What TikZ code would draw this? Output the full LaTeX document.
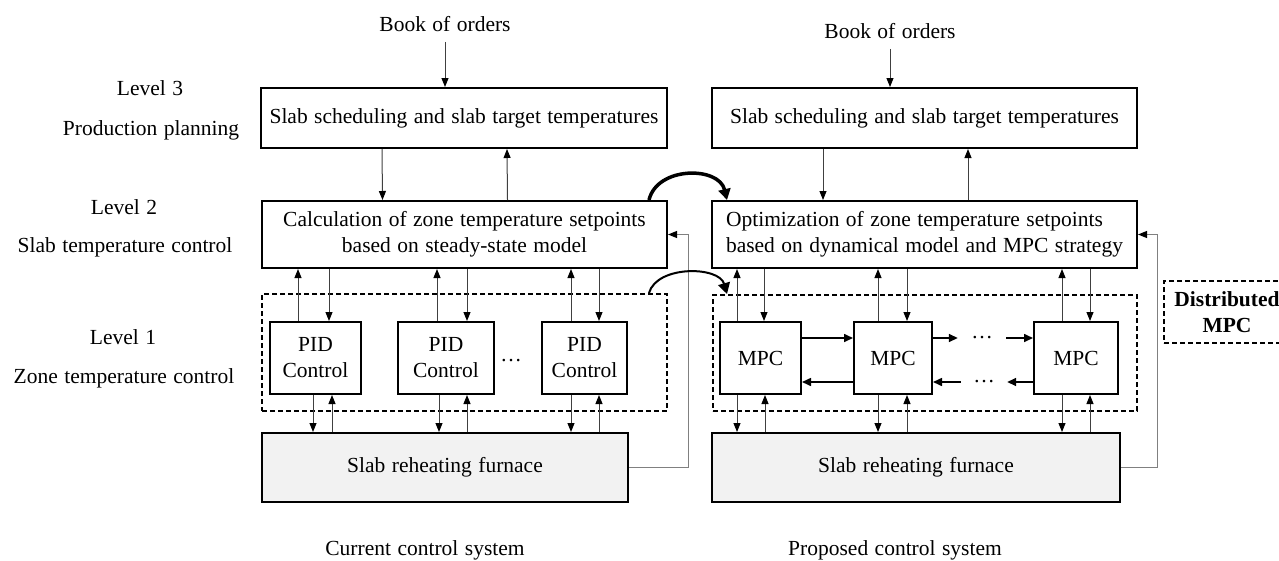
\documentclass[tikz,border=0pt]{standalone}
\usepackage{fontspec}
\setmainfont{Liberation Serif}
\usetikzlibrary{arrows.meta,positioning,calc}

\newcommand\diagfont{\fontsize{21.5}{26}\selectfont\spaceskip=0.3em plus 0.1em}

\begin{document}
\begin{tikzpicture}[
  x=1pt, y=-1pt,
  every node/.style={font=\diagfont, inner sep=0pt},
  box/.style={rectangle, draw, line width=2pt, align=center},
  zone/.style={rectangle, draw, line width=2pt, dash pattern=on 5pt off 3pt},
  furn/.style={box, fill=black!5, minimum height=69pt},
  ctrl/.style={box, minimum height=72pt},
  arr/.style={draw=black!75, line width=1pt,
              -{Triangle[length=9pt,width=7pt,color=black]}},
  fb/.style={draw=black!50, line width=1pt,
             -{Triangle[length=9pt,width=7pt,color=black]}},
  harr/.style={line width=1.6pt, -{Triangle[length=9pt,width=8pt]}},
  swap/.style={line width=#1, -{Triangle[length=11pt,width=12pt]}}
]
\useasboundingbox (0,0) rectangle (1279,560);

% level captions
\node (lv3) at (150,88)  {Level 3};
\node (pp)  at (151,130) {Production planning};
\node (lv2) at (124,207) {Level 2};
\node (stc) at (125,247) {Slab temperature control};
\node (lv1) at (123,337) {Level 1};
\node (ztc) at (124,378) {Zone temperature control};

% current control system
\node[inner ysep=10pt] (bookl) at (445,24) {Book of orders};
\node[box, minimum width=406pt, minimum height=60pt] (l3l) at (464,118)
  {Slab scheduling and slab target temperatures};
\node[box, minimum width=405pt, minimum height=67pt] (l2l) at (464.5,234.5)
  {Calculation of zone temperature setpoints\\based on steady-state model};
\node[zone, minimum width=405pt, minimum height=117pt] (dzl) at (464.5,352.5) {};
\node[ctrl, minimum width=91pt] (pid1) at (315.5,358) {PID\\Control};
\node[ctrl, minimum width=96pt] (pid2) at (446,358)   {PID\\Control};
\node[ctrl, minimum width=85pt] (pid3) at (584.5,358) {PID\\Control};
\node (dotp) at (511,361) {\dots};
\node[furn, minimum width=366pt] (fl) at (445,467.5) {Slab reheating furnace};
\node (capl) at (425,550) {Current control system};

% proposed control system
\node[inner ysep=10pt] (bookr) at (890,31) {Book of orders};
\node[box, minimum width=425pt, minimum height=60pt] (l3r) at (924.5,118)
  {Slab scheduling and slab target temperatures};
\node[box, minimum width=425pt, minimum height=67pt, align=left] (l2r) at (924.5,234.5)
  {Optimization of zone temperature setpoints\\based on dynamical model and MPC strategy};
\node[zone, minimum width=424pt, minimum height=116pt] (dzr) at (925,353) {};
\node[ctrl, minimum width=81pt] (mpc1) at (760.5,358) {MPC};
\node[ctrl, minimum width=78pt] (mpc2) at (893,358)   {MPC};
\node[ctrl, minimum width=84pt] (mpc3) at (1076,358)  {MPC};
\node[minimum width=48pt] (dotst) at (982,338) {\dots};
\node[minimum width=46pt] (dotsb) at (984,382) {\dots};
\node[furn, minimum width=408pt] (fr) at (916,467.5) {Slab reheating furnace};
\node (capr) at (895,550) {Proposed control system};
\node[zone, minimum width=126pt, minimum height=62pt, align=center,
      font=\diagfont\bfseries] (dmpc) at (1227,312) {Distributed\\MPC};

% level 3 links
\draw[arr] (bookl.south) -- (bookl.south |- l3l.north);
\draw[arr] (bookr.south) -- (bookr.south |- l3r.north);
\draw[arr] ([xshift=-82pt]l3l.south) -- ([xshift=-82pt]l2l.north);
\draw[arr] ([xshift=43pt]l2l.north) -- ([xshift=43pt]l3l.south);
\draw[arr] ([xshift=-101.5pt]l3r.south) -- ([xshift=-101.5pt]l2r.north);
\draw[arr] ([xshift=43.5pt]l2r.north) -- ([xshift=43.5pt]l3r.south);

% level 2 <-> level 1, level 1 <-> furnace
\foreach \c/\u/\d/\e/\f in {pid1/-17.5/13.5/-2.5/16.5,
                           pid2/-9/21/-7/21,
                           pid3/-13.5/14.5/-13.5/14.5}{
  \draw[arr] ([xshift=\u pt]\c.north) -- ([xshift=\u pt]\c.north |- l2l.south);
  \draw[arr] ([xshift=\d pt]\c.north |- l2l.south) -- ([xshift=\d pt]\c.north);
  \draw[arr] ([xshift=\e pt]\c.south) -- ([xshift=\e pt]\c.south |- fl.north);
  \draw[arr] ([xshift=\f pt]\c.south |- fl.north) -- ([xshift=\f pt]\c.south);
}
\foreach \c/\u/\d/\f in {mpc1/-23.5/3.5/4.5, mpc2/-15/14/14, mpc3/-14/14/14}{
  \draw[arr] ([xshift=\u pt]\c.north) -- ([xshift=\u pt]\c.north |- l2r.south);
  \draw[arr] ([xshift=\d pt]\c.north |- l2r.south) -- ([xshift=\d pt]\c.north);
  \draw[arr] ([xshift=\u pt]\c.south) -- ([xshift=\u pt]\c.south |- fr.north);
  \draw[arr] ([xshift=\f pt]\c.south |- fr.north) -- ([xshift=\f pt]\c.south);
}

% neighbour exchange between MPCs
\draw[harr] ([yshift=20pt]mpc1.east) -- ([yshift=20pt]mpc2.west);
\draw[harr] ([yshift=20pt]mpc2.east) -- (dotst.west);
\draw[harr] (dotst.east) -- (dotst.east -| mpc3.west);
\draw[harr] ([yshift=-24pt]mpc3.west) -- (dotsb.east);
\draw[harr] (dotsb.west) -- (dotsb.west -| mpc2.east);
\draw[harr] ([yshift=-24pt]mpc2.west) -- ([yshift=-24pt]mpc1.east);

% furnace feedback
\draw[fb] (fl.east) -- ++(59,0) |- (l2l.east);
\draw[fb] (fr.east) -- ++(36,0) |- (l2r.east);

% current -> proposed
\draw[swap=3.5pt] ([xshift=-19pt]l2l.north east) .. controls +(8,-34) and +(-8,-34) .. ([xshift=16pt]l2r.north west);
\draw[swap=2pt] ([xshift=-19pt]dzl.north east) .. controls +(8,-28) and +(-8,-28) .. ([xshift=15pt]dzr.north west);
\end{tikzpicture}
\end{document}
